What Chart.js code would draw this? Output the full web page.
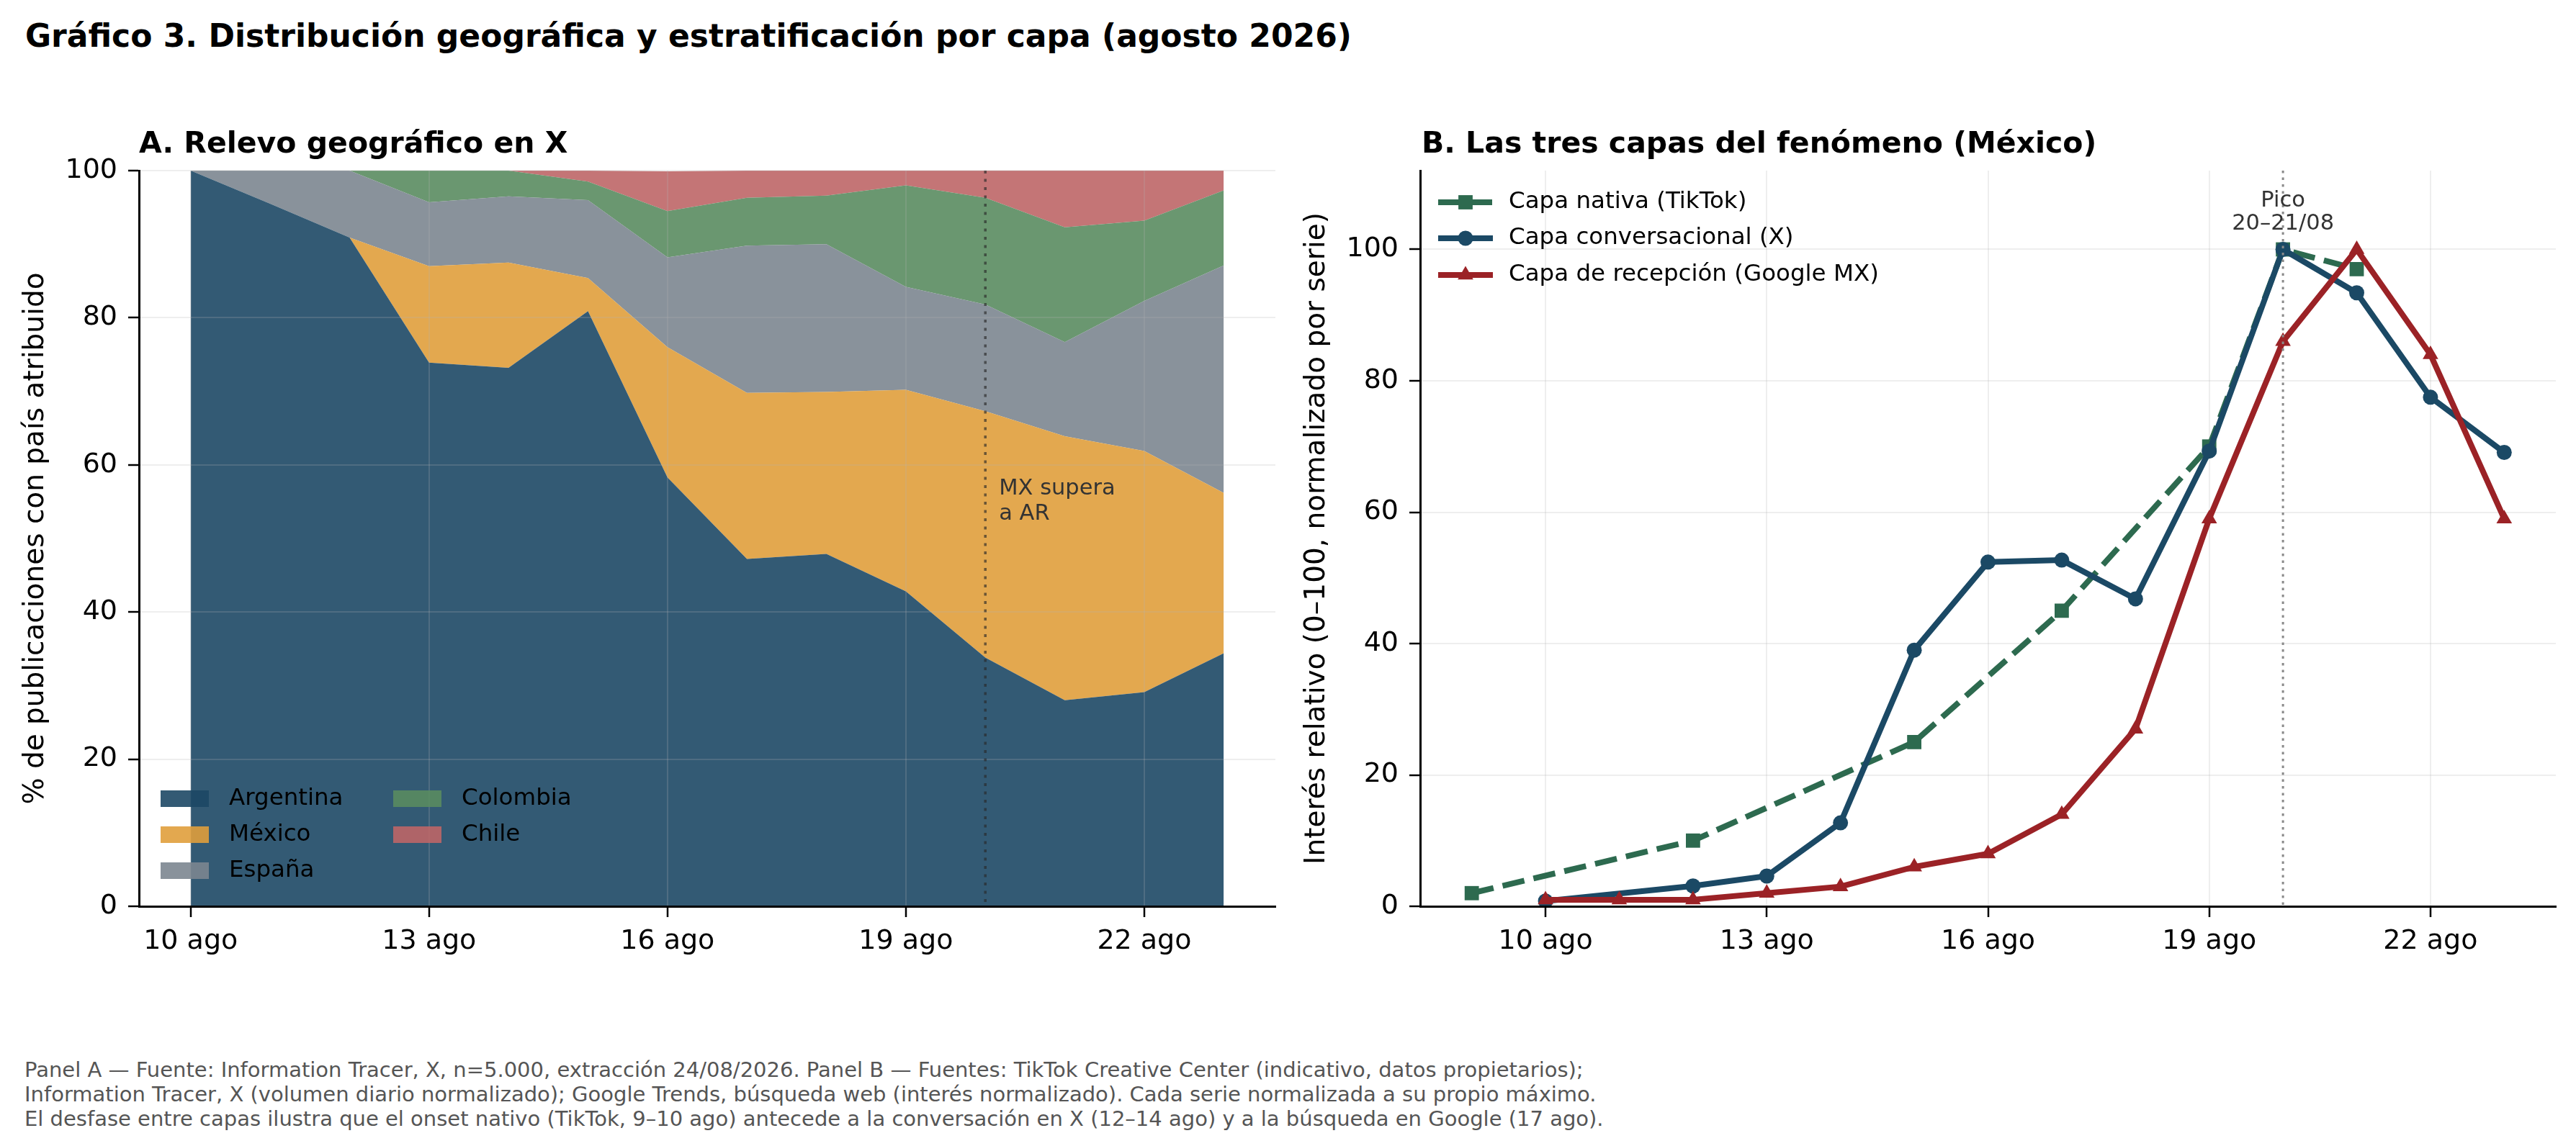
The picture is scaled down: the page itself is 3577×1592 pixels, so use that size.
<!DOCTYPE html>
<html>
<head>
<meta charset="utf-8">
<title>Gráfico 3</title>
<script src="https://cdn.jsdelivr.net/npm/chart.js@4.4.1/dist/chart.umd.min.js"></script>
<style>
  body { margin: 0; background: #fff; }
  #page { position: relative; width: 3577px; height: 1592px; font-family: "DejaVu Sans", sans-serif; background: #fff; }
  #title { position: absolute; left: 35px; top: 28px; font-size: 44px; line-height: 44px; font-weight: bold; color: #000; white-space: nowrap; }
  #note { position: absolute; left: 34px; top: 1469px; font-size: 29px; line-height: 34px; color: #555; white-space: nowrap; }
  canvas { position: absolute; top: 0; }
</style>
</head>
<body>
<div id="page">
  <div id="title">Gráfico 3. Distribución geográfica y estratificación por capa (agosto 2026)</div>
  <canvas id="geo" width="1800" height="1420" style="left:0;width:1800px;height:1420px"></canvas>
  <canvas id="capas" width="1777" height="1420" style="left:1800px;width:1777px;height:1420px"></canvas>
  <div id="note">Panel A — Fuente: Information Tracer, X, n=5.000, extracción 24/08/2026. Panel B — Fuentes: TikTok Creative Center (indicativo, datos propietarios);<br>Information Tracer, X (volumen diario normalizado); Google Trends, búsqueda web (interés normalizado). Cada serie normalizada a su propio máximo.<br>El desfase entre capas ilustra que el onset nativo (TikTok, 9–10 ago) antecede a la conversación en X (12–14 ago) y a la búsqueda en Google (17 ago).</div>
</div>
<script>
'use strict';

// panel A: share of posts by country (% of posts with attributed country)
var days = [10, 11, 12, 13, 14, 15, 16, 17, 18, 19, 20, 21, 22, 23];
var argentina = [100, 95.5, 90.9, 73.9, 73.2, 80.9, 58.3, 47.2, 47.9, 42.8, 33.8, 28.0, 29.1, 34.4];
var mexico    = [0, 0, 0, 13.1, 14.3, 4.5, 17.7, 22.6, 22.0, 27.4, 33.5, 35.9, 32.8, 21.8];
var espana    = [0, 4.5, 9.1, 8.7, 9.0, 10.6, 12.2, 20.0, 20.1, 14.0, 14.5, 12.8, 20.4, 30.9];
var colombia  = [0, 0, 0, 4.3, 3.5, 2.5, 6.3, 6.5, 6.6, 13.8, 14.5, 15.6, 10.9, 10.2];
var chile     = [0, 0, 0, 0, 0, 1.5, 5.4, 3.7, 3.4, 2.0, 3.8, 7.7, 6.9, 2.8];
var countries = ['Argentina', 'México', 'España', 'Colombia', 'Chile'];

// panel B: three layers, each normalized to its own max
var tiktokDays = [9, 12, 15, 17, 19, 20, 21];
var tiktok     = [2, 10, 25, 45, 70, 100, 97];
var xDays      = [10, 12, 13, 14, 15, 16, 17, 18, 19, 20, 21, 22, 23];
var xConv      = [0.8, 3.1, 4.6, 12.7, 39.0, 52.4, 52.7, 46.8, 69.3, 100, 93.4, 77.5, 69.1];
var googleDays = [10, 11, 12, 13, 14, 15, 16, 17, 18, 19, 20, 21, 22, 23];
var google     = [1, 1, 1, 2, 3, 6, 8, 14, 27, 59, 86, 100, 84, 59];
var capas = ['Capa nativa (TikTok)', 'Capa conversacional (X)', 'Capa de recepción (Google MX)'];

var tickDays = [10, 13, 16, 19, 22];
var tickLabels = ['10 ago', '13 ago', '16 ago', '19 ago', '22 ago'];
var valTicks = [0, 20, 40, 60, 80, 100];

var geoColors = ['rgba(29,72,101,0.9)', 'rgba(224,158,60,0.9)', 'rgba(124,134,144,0.9)', 'rgba(90,140,96,0.9)', 'rgba(190,102,103,0.9)'];
var green = '#2d6a4f', blue = '#1b4965', red = '#9b2226';
var gridColor = 'rgba(176,176,176,0.22)';
var FONT = '"DejaVu Sans", sans-serif';

Chart.defaults.font.family = FONT;
Chart.defaults.color = '#000';

function pts(xs, ys) {
  return xs.map(function (d, i) { return { x: d, y: ys[i] }; });
}

function fixedTicks(list) {
  return function (scale) { scale.ticks = list.map(function (v) { return { value: v }; }); };
}

function xScale(min, max, z) {
  return {
    type: 'linear', min: min, max: max,
    afterBuildTicks: fixedTicks(tickDays),
    afterFit: function (s) { s.height = 161; },
    ticks: { callback: function (v, i) { return tickLabels[i]; }, font: { size: 38 }, padding: 11, maxRotation: 0, autoSkip: false, color: '#000' },
    grid: { color: gridColor, lineWidth: 2, tickLength: 15, tickColor: '#000', tickWidth: 2.5, z: z },
    border: { color: '#000', width: 3, z: 2 }
  };
}

function yScale(max, width, title, titlePad, z) {
  return {
    min: 0, max: max,
    afterBuildTicks: fixedTicks(valTicks),
    afterFit: function (s) { s.width = width; },
    ticks: { font: { size: 38 }, padding: 15, color: '#000' },
    grid: { color: gridColor, lineWidth: 2, tickLength: 15, tickColor: '#000', tickWidth: 2.5, z: z },
    border: { color: '#000', width: 3, z: 2 },
    title: { display: true, text: title, color: '#000', font: { size: 39, lineHeight: 1.2 }, padding: { top: titlePad, bottom: 0 } }
  };
}

var geoExtras = {
  id: 'geoExtras',
  afterDraw: function (chart) {
    var ctx = chart.ctx, a = chart.chartArea;
    var px = chart.scales.x.getPixelForValue(20);
    var ty = chart.scales.y.getPixelForValue(56);
    ctx.save();
    ctx.fillStyle = '#000';
    ctx.textAlign = 'left';
    ctx.textBaseline = 'alphabetic';
    ctx.font = 'bold 41px ' + FONT;
    ctx.fillText('A. Relevo geográfico en X', a.left, 212);

    ctx.strokeStyle = 'rgba(40,40,40,0.65)';
    ctx.lineWidth = 3.5;
    ctx.setLineDash([4, 7.5]);
    ctx.beginPath();
    ctx.moveTo(px, a.top);
    ctx.lineTo(px, a.bottom);
    ctx.stroke();
    ctx.setLineDash([]);

    ctx.fillStyle = '#333';
    ctx.font = '30.5px ' + FONT;
    ctx.fillText('MX supera', px + 19, ty);
    ctx.fillText('a AR', px + 19, ty + 35.5);

    // legend, two columns, lower left
    var cols = [[223, 318], [546, 641]];
    var rows = [1109.5, 1159.5, 1209.5];
    ctx.font = '32.5px ' + FONT;
    ctx.textBaseline = 'middle';
    chart.data.datasets.forEach(function (ds, i) {
      var c = i < 3 ? 0 : 1, r = i < 3 ? i : i - 3;
      ctx.fillStyle = ds.backgroundColor;
      ctx.fillRect(cols[c][0], rows[r] - 11.5, 67, 23);
      ctx.fillStyle = '#000';
      ctx.fillText(ds.label, cols[c][1], rows[r]);
    });
    ctx.restore();
  }
};

var capasExtras = {
  id: 'capasExtras',
  afterDatasetsDraw: function (chart) {
    var ctx = chart.ctx, a = chart.chartArea;
    var px = chart.scales.x.getPixelForValue(20);
    ctx.save();
    ctx.strokeStyle = '#8a8a8a';
    ctx.lineWidth = 3;
    ctx.setLineDash([3.5, 6]);
    ctx.beginPath();
    ctx.moveTo(px, a.top);
    ctx.lineTo(px, a.bottom);
    ctx.stroke();
    ctx.restore();
  },
  afterDraw: function (chart) {
    var ctx = chart.ctx, a = chart.chartArea;
    var px = chart.scales.x.getPixelForValue(20);
    var ty = chart.scales.y.getPixelForValue(103);
    ctx.save();
    ctx.fillStyle = '#000';
    ctx.textAlign = 'left';
    ctx.textBaseline = 'alphabetic';
    ctx.font = 'bold 41px ' + FONT;
    ctx.fillText('B. Las tres capas del fenómeno (México)', a.left + 2, 212);

    ctx.fillStyle = '#333';
    ctx.textAlign = 'center';
    ctx.font = '30.5px ' + FONT;
    ctx.fillText('Pico', px, ty - 32.5);
    ctx.fillText('20–21/08', px, ty);

    // legend, upper left inside the axes
    var rows = [281, 331, 382];
    ctx.textAlign = 'left';
    ctx.textBaseline = 'middle';
    ctx.font = '32.5px ' + FONT;
    chart.data.datasets.forEach(function (ds, i) {
      var y = rows[i];
      ctx.strokeStyle = ds.borderColor;
      ctx.lineWidth = ds.borderWidth;
      ctx.setLineDash(ds.borderDash || []);
      ctx.beginPath();
      ctx.moveTo(197, y);
      ctx.lineTo(273, y);
      ctx.stroke();
      ctx.setLineDash([]);
      ctx.fillStyle = ds.pointBackgroundColor;
      Chart.helpers.drawPoint(ctx, { pointStyle: ds.pointStyle, radius: ds.pointRadius, rotation: 0, borderWidth: 0 }, 235, y);
      ctx.fillStyle = '#000';
      ctx.fillText(ds.label, 295, y);
    });
    ctx.restore();
  }
};

var geoSeries = [argentina, mexico, espana, colombia, chile];

var geoConfig = {
  type: 'line',
  data: {
    datasets: geoSeries.map(function (vals, i) {
      return {
        label: countries[i],
        data: pts(days, vals),
        backgroundColor: geoColors[i],
        borderColor: 'rgba(0,0,0,0)',
        borderWidth: 0,
        pointRadius: 0,
        tension: 0,
        fill: i === 0 ? 'origin' : '-1'
      };
    })
  },
  options: {
    responsive: false,
    animation: false,
    devicePixelRatio: 1,
    events: [],
    layout: { padding: { top: 237, right: 29, bottom: 0, left: 0 } },
    plugins: { legend: { display: false }, tooltip: { enabled: false } },
    scales: {
      x: xScale(9.35, 23.65, 1),
      y: Object.assign(yScale(100, 193, '% de publicaciones con país atribuido', 26, 1), { stacked: true })
    }
  },
  plugins: [geoExtras]
};

function layer(label, xs, ys, color, style, radius, dash, order) {
  return {
    label: label,
    data: pts(xs, ys),
    borderColor: color,
    backgroundColor: color,
    pointBackgroundColor: color,
    borderWidth: 8,
    borderDash: dash,
    borderJoinStyle: 'round',
    pointStyle: style,
    pointRadius: radius,
    pointBorderWidth: 0,
    tension: 0,
    fill: false,
    order: order
  };
}

var capasConfig = {
  type: 'line',
  data: {
    datasets: [
      layer(capas[0], tiktokDays, tiktok, green, 'rect', 14, [31, 13], 3),
      layer(capas[1], xDays, xConv, blue, 'circle', 10.5, [], 2),
      layer(capas[2], googleDays, google, red, 'triangle', 12.5, [], 1)
    ]
  },
  options: {
    responsive: false,
    animation: false,
    devicePixelRatio: 1,
    events: [],
    layout: { padding: { top: 237, right: 28, bottom: 0, left: 0 } },
    plugins: { legend: { display: false }, tooltip: { enabled: false } },
    scales: {
      x: xScale(8.3, 23.7, -1),
      y: yScale(112, 172, 'Interés relativo (0–100, normalizado por serie)', 5, -1)
    }
  },
  plugins: [capasExtras]
};

new Chart(document.getElementById('geo').getContext('2d'), geoConfig);
new Chart(document.getElementById('capas').getContext('2d'), capasConfig);
</script>
</body>
</html>
